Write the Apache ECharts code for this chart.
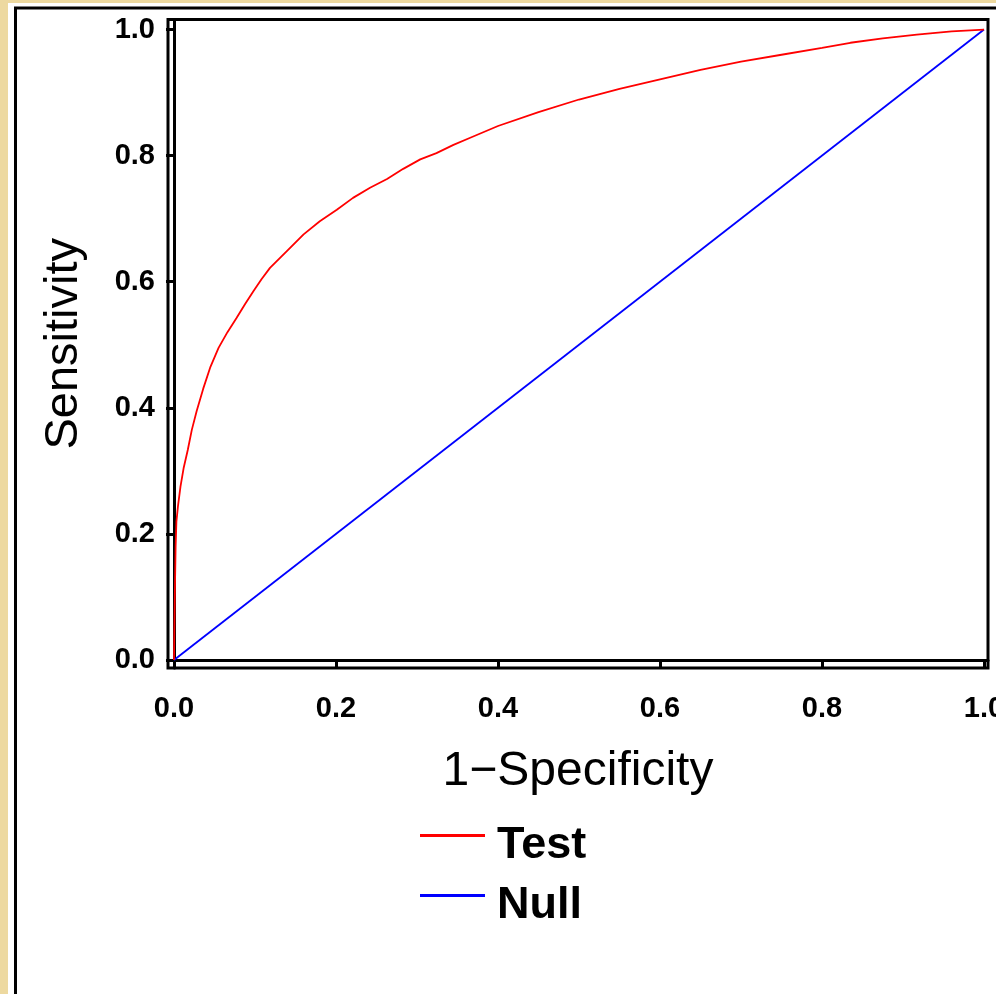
<!DOCTYPE html>
<html>
<head>
<meta charset="utf-8">
<script src="https://cdn.jsdelivr.net/npm/echarts@6/dist/echarts.min.js"></script>
<style>
html,body{margin:0;padding:0;background:#EDD9A0;}
#chart{width:996px;height:994px;}
</style>
</head>
<body>
<div id="chart"></div>
<script>
// ---- data ----
var testX = [0, 0.001, 0.002, 0.003, 0.005, 0.008, 0.012, 0.017, 0.022, 0.028, 0.036, 0.045, 0.055, 0.066, 0.077, 0.088, 0.098, 0.108, 0.1185, 0.139, 0.16, 0.18, 0.201, 0.221, 0.242, 0.263, 0.283, 0.304, 0.324, 0.345, 0.365, 0.4, 0.45, 0.5, 0.55, 0.6, 0.65, 0.7, 0.75, 0.8, 0.835, 0.875, 0.917, 0.96, 1];
var testY = [0, 0.1, 0.18, 0.22, 0.245, 0.275, 0.305, 0.333, 0.365, 0.395, 0.43, 0.465, 0.495, 0.52, 0.542, 0.565, 0.585, 0.604, 0.622, 0.648, 0.675, 0.696, 0.714, 0.733, 0.749, 0.763, 0.779, 0.794, 0.804, 0.817, 0.828, 0.847, 0.869, 0.889, 0.906, 0.921, 0.936, 0.949, 0.96, 0.971, 0.979, 0.986, 0.992, 0.997, 1];
var nullX = [0, 1];
var nullY = [0, 1];
var tickValues = [0, 0.2, 0.4, 0.6, 0.8, 1.0];
var seriesNames = ['Test', 'Null'];
var xTitle = '1\u2212Specificity';
var yTitle = 'Sensitivity';

function pairs(xs, ys) { return xs.map(function (x, i) { return [x, ys[i]]; }); }

var chart = echarts.init(document.getElementById('chart'), null, { renderer: 'canvas' });
var labelFont = { fontFamily: 'Liberation Sans, Arial, sans-serif', fontWeight: 'bold', fontSize: 29, color: '#000' };

chart.setOption({
  backgroundColor: '#EDD9A0',
  animation: false,
  graphic: [
    { type: 'rect', z: -10, shape: { x: 8, y: 3, width: 1100, height: 1100 }, style: { fill: '#ffffff' } },
    { type: 'rect', z: -9, shape: { x: 15.5, y: 8, width: 1100, height: 1100 }, style: { fill: 'none', stroke: '#000', lineWidth: 3 } }
  ],
  grid: { left: 168, right: 8, top: 19.5, bottom: 326, show: true, borderColor: '#000', borderWidth: 3, backgroundColor: '#fff', containLabel: false, outerBoundsMode: 'none' },
  legend: {
    orient: 'vertical', left: 415, top: 818,
    icon: 'path://M0,0H65V3H0Z M0,22.99H0.01V23H0Z', itemWidth: 65, itemHeight: 23, itemGap: 15,
    textStyle: { fontFamily: 'Liberation Sans, Arial, sans-serif', fontWeight: 'bold', fontSize: 45, lineHeight: 45, color: '#000', padding: [0, 0, 0, 7] },
    data: seriesNames
  },
  xAxis: {
    type: 'value', min: -0.0074, max: 1.0049,
    name: xTitle, nameLocation: 'middle', nameGap: 80,
    nameTextStyle: { fontFamily: 'Liberation Sans, Arial, sans-serif', fontSize: 48, color: '#000' },
    axisLine: { show: true, lineStyle: { color: '#000', width: 3 } },
    axisTick: { show: true, inside: false, length: 8, lineStyle: { color: '#000', width: 3 }, customValues: tickValues },
    axisLabel: Object.assign({ margin: 26, customValues: tickValues, formatter: function (v) { return v.toFixed(1); } }, labelFont),
    splitLine: { show: false }
  },
  yAxis: {
    type: 'value', min: -0.0127, max: 1.0159,
    name: yTitle, nameLocation: 'middle', nameGap: 80, nameRotate: 90,
    nameTextStyle: { fontFamily: 'Liberation Sans, Arial, sans-serif', fontSize: 47, color: '#000' },
    axisLine: { show: true, lineStyle: { color: '#000', width: 3 } },
    axisTick: { show: true, inside: false, length: 8, lineStyle: { color: '#000', width: 3 }, customValues: tickValues },
    axisLabel: Object.assign({ margin: 13, customValues: tickValues, formatter: function (v) { return v.toFixed(1); } }, labelFont),
    splitLine: { show: false }
  },
  series: [
    { name: seriesNames[0], type: 'line', data: pairs(testX, testY), symbol: 'none', color: '#ff0000', lineStyle: { color: '#ff0000', width: 1.8 }, z: 3 },
    { name: seriesNames[1], type: 'line', data: pairs(nullX, nullY), symbol: 'none', color: '#0000ff', lineStyle: { color: '#0000ff', width: 1.8 }, z: 2 }
  ]
});
</script>
</body>
</html>
